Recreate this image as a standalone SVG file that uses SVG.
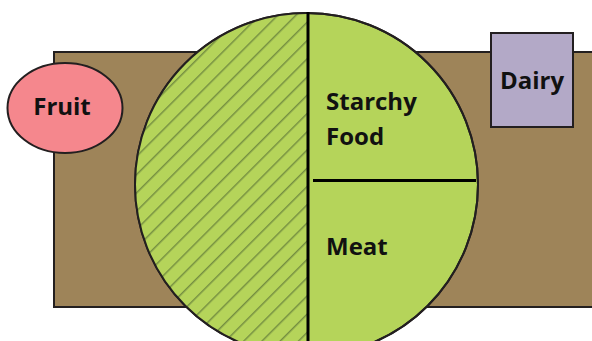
<svg xmlns="http://www.w3.org/2000/svg" width="592" height="341" viewBox="0 0 592 341">
<style>
  .lbl{font-family:"Open Sans","Liberation Sans",sans-serif;font-weight:bold;font-size:24px;fill:#111}
  .edge{stroke:#231f20;stroke-width:2}
</style>
<defs>
  <clipPath id="circClip"><circle cx="306.5" cy="184.5" r="171.5"/></clipPath>
  <pattern id="hatch" patternUnits="userSpaceOnUse" width="12.9" height="12.9" patternTransform="rotate(45)">
    <rect width="12.9" height="12.9" fill="#b5d45a"/>
    <line x1="0.8" y1="0" x2="0.8" y2="12.9" stroke="#5f7838" stroke-width="1.1"/>
  </pattern>
</defs>
<g id="table">
  <rect x="54" y="52" width="545" height="255" fill="#9e8459" class="edge"/>
</g>
<g id="plate">
  <circle cx="306.5" cy="184.5" r="171.5" fill="#b5d45a" class="edge"/>
  <rect x="134" y="0" width="174" height="360" fill="url(#hatch)" clip-path="url(#circClip)"/>
  <circle cx="306.5" cy="184.5" r="171.5" fill="none" class="edge"/>
</g>
<g id="connectors">
  <line x1="308" y1="12" x2="308" y2="341" stroke="#000" stroke-width="3"/>
  <line x1="313" y1="180.5" x2="476" y2="180.5" stroke="#000" stroke-width="3"/>
</g>
<g id="starchy">
  <text class="lbl" x="326" y="110">Starchy</text>
  <text class="lbl" x="326" y="145">Food</text>
</g>
<g id="meat">
  <text class="lbl" x="326" y="255">Meat</text>
</g>
<g id="fruit">
  <ellipse cx="65" cy="108" rx="57.5" ry="45" fill="#f5878d" class="edge"/>
  <text class="lbl" x="62" y="115" text-anchor="middle">Fruit</text>
</g>
<g id="dairy">
  <rect x="491" y="33" width="82" height="94" fill="#b3a9c7" class="edge"/>
  <text class="lbl" x="532" y="89" text-anchor="middle">Dairy</text>
</g>
</svg>
